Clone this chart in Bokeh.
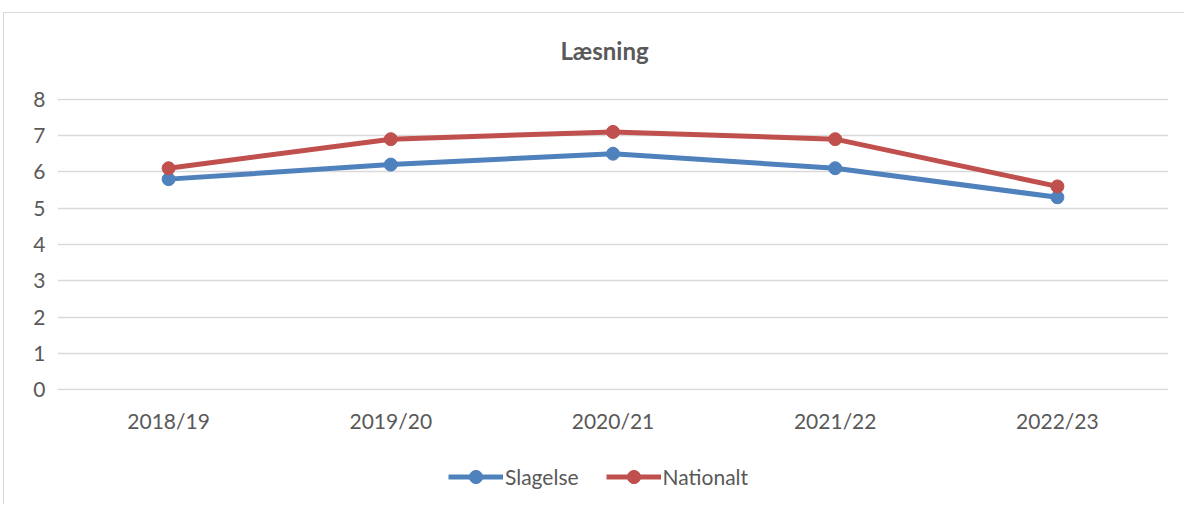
from bokeh.plotting import figure
from bokeh.models import Legend, LegendItem, Label
from bokeh.layouts import column
from bokeh.embed import file_html
from bokeh.resources import INLINE

years = ["2018/19", "2019/20", "2020/21", "2021/22", "2022/23"]
slagelse = [5.8, 6.2, 6.5, 6.1, 5.3]
nationalt = [6.1, 6.9, 7.1, 6.9, 5.6]
y_ticks = [0, 1, 2, 3, 4, 5, 6, 7, 8]
title_text = "Læsning"

FONT = "Lato"
TXT = "#595959"
BLUE = "#4f81bd"
RED = "#c0504d"
W = 1180


def strip(height, x_range, y_range):
    f = figure(x_range=x_range, y_range=y_range, width=W, height=height,
               output_backend="svg", toolbar_location=None,
               x_axis_location=None, y_axis_location=None,
               min_border_left=0, min_border_right=0, min_border_top=0, min_border_bottom=0)
    f.grid.grid_line_color = None
    f.outline_line_color = None
    f.border_fill_color = "white"
    f.background_fill_color = "white"
    return f


# title strip
p0 = strip(71, (0, W), (0, 71))
p0.add_layout(Label(x=581, y=34, text=title_text, text_align="center", text_baseline="middle",
                    text_font=FONT, text_font_size="24px", text_font_style="bold", text_color=TXT))

# main chart
p = figure(x_range=years, y_range=(-0.02, 8.02), width=W, height=364,
           output_backend="svg", toolbar_location=None,
           min_border_left=53, min_border_right=16, min_border_top=14, min_border_bottom=58)
p.outline_line_color = None
p.background_fill_color = "white"
p.border_fill_color = "white"
p.xgrid.grid_line_color = None
p.ygrid.grid_line_color = "#d9d9d9"
p.ygrid.grid_line_width = 1.5
p.yaxis.ticker = y_ticks

for ax in (p.xaxis, p.yaxis):
    ax.axis_line_color = None
    ax.major_tick_line_color = None
    ax.minor_tick_line_color = None
    ax.major_label_text_font = FONT
    ax.major_label_text_font_size = "21px"
    ax.major_label_text_color = TXT
p.xaxis.major_label_standoff = 11
p.yaxis.major_label_standoff = 6

p.line(years, slagelse, line_color=BLUE, line_width=5)
p.scatter(years, slagelse, size=13, fill_color=BLUE, line_color=BLUE)
p.line(years, nationalt, line_color=RED, line_width=5)
p.scatter(years, nationalt, size=13, fill_color=RED, line_color=RED)

# legend strip below the chart (series drawn off-range, only their legend glyphs show)
p2 = strip(56, years, (100, 101))
l1 = p2.line(years, slagelse, line_color=BLUE, line_width=5)
c1 = p2.scatter(years, slagelse, size=13, fill_color=BLUE, line_color=BLUE)
l2 = p2.line(years, nationalt, line_color=RED, line_width=5)
c2 = p2.scatter(years, nationalt, size=13, fill_color=RED, line_color=RED)

legend = Legend(items=[LegendItem(label="Slagelse", renderers=[l1, c1]),
                       LegendItem(label="Nationalt", renderers=[l2, c2])],
                orientation="horizontal", location=(391, 11),
                label_text_font=FONT, label_text_font_size="21px", label_text_color=TXT,
                glyph_width=55, glyph_height=33, label_standoff=2, spacing=27,
                padding=4, margin=0, border_line_color=None, background_fill_alpha=0)
p2.add_layout(legend)

layout = column(p0, p, p2, spacing=0)
layout.margin = (12, 0, 0, 3)
layout.styles = {"border-top": "1px solid #d9d9d9", "border-left": "1px solid #d9d9d9"}

open("out.html", "w").write(file_html(layout, INLINE))
